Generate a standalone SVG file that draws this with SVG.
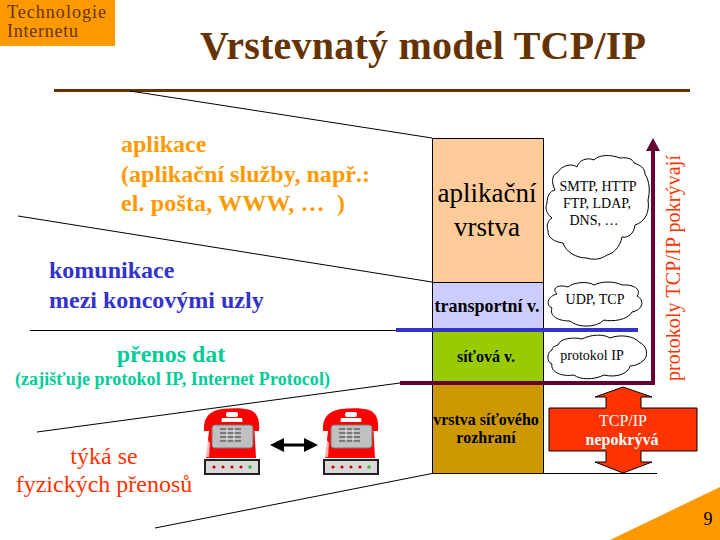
<svg xmlns="http://www.w3.org/2000/svg" width="720" height="540" viewBox="0 0 720 540">
<style>
text{font-family:"Liberation Serif","Times New Roman",serif}
.b{font-weight:bold}
.m{text-anchor:middle}
.ln{stroke:#000;stroke-width:1;fill:none}
.cl{fill:#fff;stroke:#000;stroke-width:1}
.ct{font-size:14px;fill:#000;text-anchor:middle}
.o{fill:#ff9900;font-size:24px;font-weight:bold}
.l{fill:#3333cc;font-size:24px;font-weight:bold}
.g{fill:#00cc99;font-weight:bold}
.r{fill:#ff3300;font-size:24px}
.v{fill:#000;font-size:16px;font-weight:bold;text-anchor:middle}
</style>
<defs>
<g id="phone">
<path d="M-28,22 C-29,8 -22,2 -10,0 C0,-1 12,-1 18,1 C26,4 28,12 27,22 L12,22 L10,9 L-10,9 L-12,22Z" fill="#ff0000"/>
<rect x="-6" y="3" width="12" height="5" rx="2" fill="#fff"/>
<path d="M-22,13 L22,13 L24,49 L-26,49Z" fill="#ff0000"/>
<path d="M-25,30 L-26,48 L-23,48 L-22,34Z" fill="#fff" opacity="0.7"/>
<rect x="-20" y="16" width="41" height="23" rx="3" fill="#c0c0c0" stroke="#777"/>
<path d="M-12,20H9M-12,24H9M-12,28H9M-12,32H9" stroke="#333" stroke-width="1" fill="none"/>
<path d="M-5,19V33M2,19V33" stroke="#eee" stroke-width="1" fill="none"/>
<rect x="-27" y="51" width="54" height="14" fill="#d8d8d8" stroke="#222" stroke-width="2"/>
<g fill="#cc0000"><circle cx="-18" cy="58" r="1.6"/><circle cx="-9" cy="58" r="1.6"/><circle cx="0" cy="58" r="1.6"/><circle cx="9" cy="58" r="1.6"/></g>
<circle cx="18" cy="58" r="1.8" fill="#33bb33"/>
</g>
</defs>
<g id="badge"><rect x="0" y="0" width="115" height="46" fill="#ff9900"/><text x="7" y="18" font-size="18" fill="#663300" textLength="99">Technologie</text><text x="7" y="37" font-size="18" fill="#663300" textLength="71">Internetu</text></g>
<g id="title"><text x="200" y="59" class="b" font-size="40" fill="#663300" textLength="446">Vrstevnatý model TCP/IP</text></g>
<g id="corner"><polygon points="720,487 720,540 610,540" fill="#ff9900"/><text x="708" y="525" class="m" font-size="18">9</text></g>
<g id="connectors">
<line x1="54" y1="90.500" x2="690" y2="90.500" stroke="#663300" stroke-width="3"/>
<path class="ln" d="M130,91L432,138M18,216L432,282M30,330.500H432M37,432L400,383M155,528L432,473.500M432,473.500H657"/>
<path d="M400,383H653V150" fill="none" stroke="#660033" stroke-width="4"/>
<polygon points="653,138 646,151 660,151" fill="#660033"/>
<path d="M276,445H312" stroke="#000" stroke-width="3"/>
<polygon points="270,445 284,438 284,452" fill="#000"/><polygon points="318,445 304,438 304,452" fill="#000"/>
</g>
<g id="layer-app"><rect x="432.500" y="138.500" width="111" height="144" fill="#ffcc99" stroke="#000"/><text x="487" y="202" class="m" font-size="27">aplikační</text><text x="487" y="236" class="m" font-size="27">vrstva</text></g>
<g id="layer-transport"><rect x="432.500" y="282.500" width="111" height="48" fill="#ccccff" stroke="#000"/><text x="487" y="312" class="v" style="font-size:18px">transportní v.</text></g>
<g id="layer-net"><rect x="432.500" y="330.500" width="111" height="53" fill="#99cc00" stroke="#000"/><text x="486" y="362" class="v">síťová v.</text></g>
<g id="layer-link"><rect x="432.500" y="383.500" width="111" height="90" fill="#cc9900" stroke="#000"/><text x="486" y="425" class="v">vrstva síťového</text><text x="486" y="443" class="v">rozhraní</text></g>
<line x1="400" y1="383" x2="653" y2="383" stroke="#660033" stroke-width="4"/>
<line x1="396" y1="330" x2="638" y2="330" stroke="#3333cc" stroke-width="4"/>
<g id="cloud-app"><path class="cl" d="M555,190C551,182 552,175 557,173C562,165 572,163 577,167C579,160 587,157 594,160C598,155 610,154 620,158C627,157 633,159 634,163C640,165 645,168 645,174C650,182 650,192 648,200C650,212 645,222 635,225C634,234 628,238 622,237C620,248 612,254 607,255C600,260 592,260 587,258C576,258 566,252 563,243C555,242 547,238 548,230C546,226 548,220 552,218C546,214 545,207 547,203C547,196 550,191 555,190Z"/>
<text class="ct" x="598" y="191">SMTP, HTTP</text><text class="ct" x="597" y="208">FTP, LDAP,</text><text class="ct" x="594" y="225">DNS, …</text></g>
<g id="cloud-transport"><path class="cl" d="M557,294C551,288 558,284 568,287C574,282 588,281 594,285C602,281 614,281 622,285C634,284 642,290 637,296C645,300 643,310 632,312C628,320 612,322 604,320C596,328 578,328 570,321C558,321 549,316 552,308C545,305 548,296 557,294Z"/>
<text class="ct" x="595" y="304">UDP, TCP</text></g>
<g id="cloud-net"><path class="cl" d="M558,345C560,338 574,337 582,339C592,334 604,334 610,338C620,334 634,336 639,342C648,346 648,356 644,360C640,364 634,366 630,366C628,374 616,378 604,375C594,380 580,380 574,375C562,377 550,372 552,364C546,362 547,352 552,350C552,347 555,346 558,345Z"/>
<text class="ct" x="592" y="360">protokol IP</text></g>
<g id="tcpip-note"><polygon points="623,387 652,397 641,397 641,408 697,408 697,451 641,451 641,462 652,462 623,473 595,462 606,462 606,451 549,451 549,408 606,408 606,397 595,397" fill="#ff3300" stroke="#000"/>
<text x="623" y="426" class="m b" font-size="16" fill="#fff" style="font-weight:normal">TCP/IP</text><text x="622" y="445" class="m b" font-size="16" fill="#fff">nepokrývá</text></g>
<g id="label-vertical"><text transform="translate(680,381) rotate(-90)" font-size="20" fill="#ff3300" textLength="226">protokoly TCP/IP pokrývají</text></g>
<g id="label-app"><text x="121" y="152" class="o">aplikace</text><text x="121" y="182" class="o" textLength="249">(aplikační služby, např.:</text><text x="121" y="211" class="o" xml:space="preserve" textLength="224">el. pošta, WWW, …  )</text></g>
<g id="label-comm"><text x="49" y="278" class="l">komunikace</text><text x="49" y="308" class="l">mezi koncovými uzly</text></g>
<g id="label-data"><text x="171" y="362" class="g m" font-size="24">přenos dat</text><text x="15" y="385" class="b" font-size="18" fill="#00cc99" textLength="315">(zajišťuje protokol IP, Internet Protocol)</text></g>
<g id="label-phys"><text x="104" y="464" class="r m">týká se</text><text x="104" y="492" class="r m">fyzických přenosů</text></g>
<use id="phone-a" href="#phone" x="232" y="409"/>
<use id="phone-b" href="#phone" x="351" y="409"/>
</svg>
